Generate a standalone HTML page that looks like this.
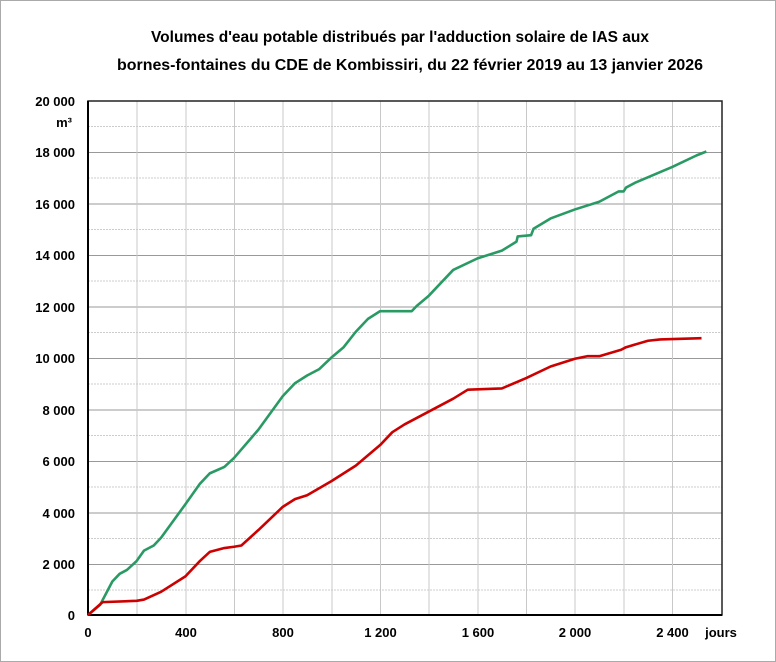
<!DOCTYPE html><html><head><style>body{margin:0;background:#fff}svg{display:block}text{font-family:"Liberation Sans",sans-serif;font-weight:bold;fill:#000}</style></head><body>
<svg width="776" height="662" viewBox="0 0 776 662">
<rect x="0.5" y="0.5" width="775" height="661" fill="#fff" stroke="#aaa"/>
<text x="400" y="42" font-size="15.5" text-anchor="middle">Volumes d'eau potable distribués par l'adduction solaire de IAS aux</text>
<text x="410" y="70" font-size="15.5" text-anchor="middle" textLength="586" lengthAdjust="spacingAndGlyphs">bornes-fontaines du CDE de Kombissiri, du 22 février 2019 au 13 janvier 2026</text>
<g stroke="#ccc" stroke-dasharray="2,1" stroke-width="1">
<line x1="88" x2="722" y1="126.5" y2="126.5"/><line x1="88" x2="722" y1="178" y2="178"/><line x1="88" x2="722" y1="229.5" y2="229.5"/><line x1="88" x2="722" y1="281" y2="281"/><line x1="88" x2="722" y1="332.5" y2="332.5"/><line x1="88" x2="722" y1="384" y2="384"/><line x1="88" x2="722" y1="435.5" y2="435.5"/><line x1="88" x2="722" y1="487" y2="487"/><line x1="88" x2="722" y1="538.5" y2="538.5"/><line x1="88" x2="722" y1="590" y2="590"/>
</g>
<g stroke="#999" stroke-width="1">
<line x1="88" x2="722" y1="152.5" y2="152.5"/><line x1="88" x2="722" y1="204" y2="204"/><line x1="88" x2="722" y1="255.5" y2="255.5"/><line x1="88" x2="722" y1="307" y2="307"/><line x1="88" x2="722" y1="358.5" y2="358.5"/><line x1="88" x2="722" y1="410" y2="410"/><line x1="88" x2="722" y1="461.5" y2="461.5"/><line x1="88" x2="722" y1="513" y2="513"/><line x1="88" x2="722" y1="564.5" y2="564.5"/>
</g>
<g stroke="#c8c8c8" stroke-width="1">
<line x1="137" x2="137" y1="101" y2="615"/><line x1="186" x2="186" y1="101" y2="615"/><line x1="234.5" x2="234.5" y1="101" y2="615"/><line x1="283" x2="283" y1="101" y2="615"/><line x1="332" x2="332" y1="101" y2="615"/><line x1="380.5" x2="380.5" y1="101" y2="615"/><line x1="429" x2="429" y1="101" y2="615"/><line x1="478" x2="478" y1="101" y2="615"/><line x1="526.5" x2="526.5" y1="101" y2="615"/><line x1="575" x2="575" y1="101" y2="615"/><line x1="624" x2="624" y1="101" y2="615"/><line x1="672.5" x2="672.5" y1="101" y2="615"/>
</g>
<rect x="88" y="101" width="634" height="514" fill="none" stroke="#222" stroke-width="1.5"/>
<line x1="88" x2="88" y1="101" y2="615" stroke="#000" stroke-width="2"/>
<line x1="88" x2="722" y1="615" y2="615" stroke="#000" stroke-width="2"/>
<g font-size="13" text-anchor="end">
<text x="75" y="106">20 000</text><text x="72" y="127">m³</text><text x="75" y="157">18 000</text><text x="75" y="209">16 000</text><text x="75" y="260">14 000</text><text x="75" y="312">12 000</text><text x="75" y="363">10 000</text><text x="75" y="415">8 000</text><text x="75" y="466">6 000</text><text x="75" y="518">4 000</text><text x="75" y="569">2 000</text><text x="75" y="620">0</text>
</g>
<g font-size="13" text-anchor="middle">
<text x="88" y="637">0</text><text x="186" y="637">400</text><text x="283" y="637">800</text><text x="380.5" y="637">1 200</text><text x="478" y="637">1 600</text><text x="575" y="637">2 000</text><text x="672.5" y="637">2 400</text><text x="721" y="637">jours</text>
</g>
<g transform="translate(88,615) scale(0.24346,-0.02575)" fill="none" stroke-width="2.6" stroke-linejoin="round">
<polyline vector-effect="non-scaling-stroke" stroke="#2a9a64" points="0,0 50,400 100,1300 130,1600 160,1750 200,2100 230,2500 270,2700 300,3000 400,4300 460,5100 500,5500 560,5750 600,6100 700,7200 800,8500 850,9000 900,9300 950,9550 1000,10000 1050,10400 1100,11000 1150,11500 1200,11800 1330,11800 1350,12000 1400,12400 1500,13400 1600,13850 1700,14150 1760,14500 1765,14700 1820,14750 1830,15000 1900,15400 2000,15750 2100,16050 2180,16450 2200,16450 2210,16600 2250,16800 2400,17400 2500,17850 2540,18000"/>
<polyline vector-effect="non-scaling-stroke" stroke="#cc0000" points="0,0 60,500 200,550 230,600 300,900 400,1500 460,2100 500,2450 560,2600 600,2650 630,2700 700,3300 800,4200 850,4500 900,4650 1000,5200 1100,5800 1200,6600 1250,7100 1300,7400 1400,7900 1500,8400 1560,8750 1700,8800 1800,9200 1900,9650 2000,9950 2050,10050 2100,10050 2190,10300 2210,10400 2300,10650 2350,10700 2520,10750"/>
</g>
</svg></body></html>
